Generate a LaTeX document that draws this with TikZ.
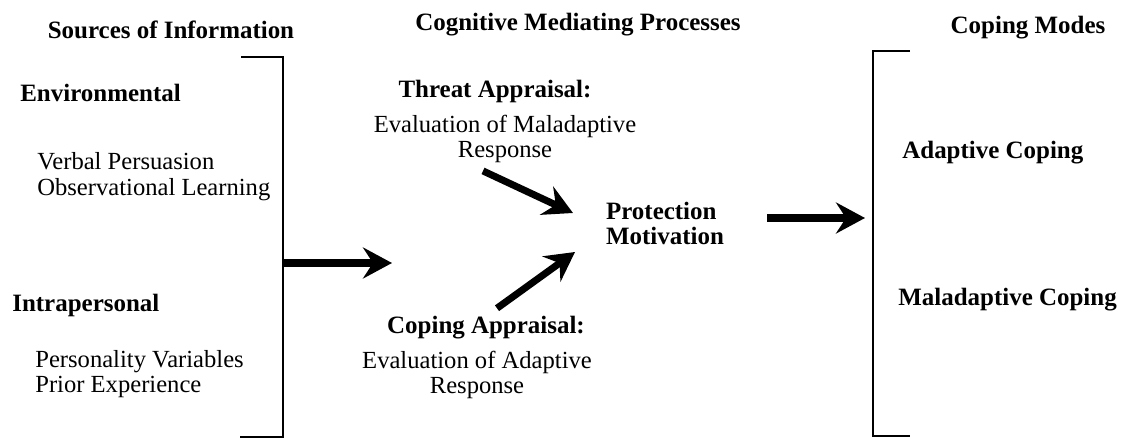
\documentclass[tikz,border=0pt]{standalone}
\usepackage{fontspec}
\setmainfont{Liberation Serif}
\usetikzlibrary{arrows.meta, calc}

\begin{document}
\begin{tikzpicture}[
    heading/.style={font=\fontsize{14.2}{14}\selectfont\bfseries, inner sep=0pt},
    label/.style={font=\fontsize{14}{14.5}\selectfont, inner sep=0pt, align=left, anchor=west},
    sublabel/.style={font=\fontsize{14}{14}\selectfont, inner sep=0pt, align=center},
    bracket/.style={draw=black, line width=1.3pt},
    bigarrow/.style={-{Stealth[length=0.58cm, width=0.62cm, inset=0.2cm]}, line width=4pt, draw=black}
]
\useasboundingbox (0,0) rectangle (22.5,-8.78);

% column headings
\node[heading] (sources) at (3.42, -0.60) {Sources of Information};
\node[heading] (cognitive) at (11.56, -0.50) {Cognitive Mediating Processes};
\node[heading] (modes) at (20.56, -0.56) {Coping Modes};

% sources of information
\node[heading, anchor=west] (env) at (0.40, -1.86) {Environmental};
\node[label] (envlist) at (0.74, -3.53) {Verbal Persuasion\\Observational Learning};
\node[heading, anchor=west] (intra) at (0.24, -6.10) {Intrapersonal};
\node[label] (intralist) at (0.70, -7.48) {Personality Variables\\Prior Experience};

% mediating processes
\node[heading] (threat) at (9.90, -1.84) {Threat Appraisal:};
\node[sublabel] (threateval) at (10.10, -2.78) {Evaluation of Maladaptive\\Response};
\node[heading] (coping) at (9.72, -6.56) {Coping Appraisal:};
\node[sublabel] (copingeval) at (9.54, -7.50) {Evaluation of Adaptive\\Response};
\node[heading, align=left] (protect) at (13.30, -4.47) {Protection\\Motivation};

% coping modes
\node[heading, anchor=west] (adaptive) at (18.04, -3.06) {Adaptive Coping};
\node[heading, anchor=west] (maladaptive) at (17.96, -6.00) {Maladaptive Coping};

% brackets
\draw[bracket] (4.82, -1.14) -- (5.66, -1.14) -- (5.66, -8.74) -- (4.80, -8.74);
\draw[bracket] (18.20, -1.02) -- (17.46, -1.02) -- (17.46, -8.72) -- (18.20, -8.72);

% arrow ends
\coordinate (lbr) at (5.66, -5.26);
\coordinate (mid) at (7.84, -5.26);
\coordinate (threatend) at (11.46, -4.26);
\coordinate (copingend) at (11.50, -5.04);
\coordinate (pmout) at (15.34, -4.36);
\coordinate (rbr) at (17.30, -4.36);

\draw[bigarrow] (lbr) -- (mid);
\draw[bigarrow] ($(threateval.south)+(-0.44,-0.16)$) -- (threatend);
\draw[bigarrow] ($(coping.north)+(0.22,0.16)$) -- (copingend);
\draw[bigarrow] (pmout) -- (rbr);

\end{tikzpicture}
\end{document}
